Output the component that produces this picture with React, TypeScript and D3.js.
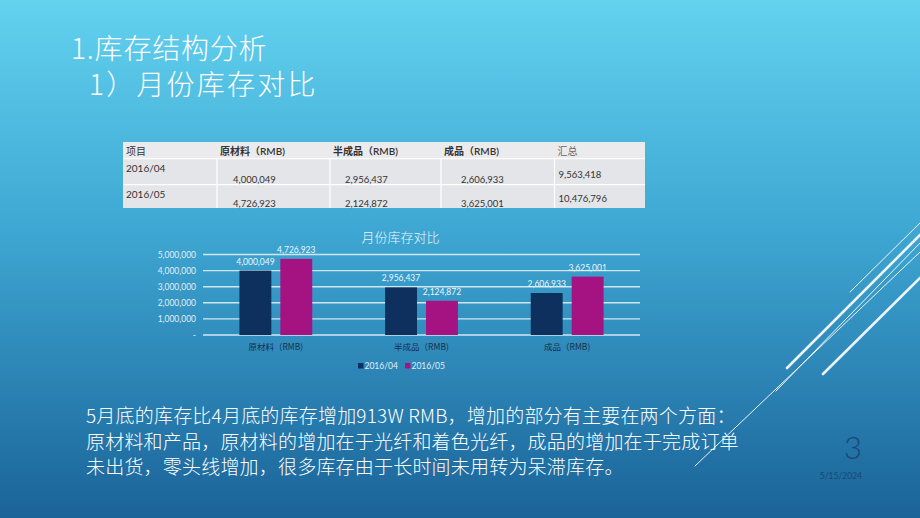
import React from "react";
import * as d3 from "d3";

const categories = ["原材料（RMB)", "半成品（RMB)", "成品（RMB)"];
const seriesNames = ["2016/04", "2016/05"];
const values04 = [4000049, 2956437, 2606933];
const values05 = [4726923, 2124872, 3625001];
const totals = [9563418, 10476796];
const tableHeaders = ["项目", "原材料（RMB)", "半成品（RMB)", "成品（RMB)", "汇总"];
const yTicks = [0, 1000000, 2000000, 3000000, 4000000, 5000000];
const titleLines = ["1.库存结构分析", "1）月份库存对比"];
const chartTitle = "月份库存对比";
const paragraph = [
  "5月底的库存比4月底的库存增加913W RMB，增加的部分有主要在两个方面：",
  "原材料和产品，原材料的增加在于光纤和着色光纤，成品的增加在于完成订单",
  "未出货，零头线增加，很多库存由于长时间未用转为呆滞库存。",
];
const pageNumber = "3";
const dateText = "5/15/2024";

const COLORS = ["#0e305e", "#a51282"];
const FONT = "'Noto Sans CJK SC', 'Noto Sans', sans-serif";
const LFONT = "Lato, 'Noto Sans CJK SC', sans-serif";

export default function App() {
  const fmt = d3.format(",");
  const series = [values04, values05];

  const x0 = d3.scaleBand<string>().domain(categories).range([203, 640]).paddingInner(0.5).paddingOuter(0.25);
  const x1 = d3.scaleBand<string>().domain(seriesNames).range([0, x0.bandwidth()]).paddingInner(0.22);
  const y = d3.scaleLinear().domain([0, 5000000]).range([335, 254.5]);

  // table layout
  const colEdges = [123, 217, 330, 441, 554.5, 645];
  const rowEdges = [142, 158.7, 184.7, 208];
  const numOffsets = [0, 16, 15, 20, 4];
  const rowsData = seriesNames.map((s, r) => [
    s,
    ...categories.map((_, c) => fmt(series[r][c])),
    fmt(totals[r]),
  ]);

  const decoLines = [
    { x1: 695, y1: 466, x2: 920, y2: 252, w: 1 },
    { x1: 776, y1: 391, x2: 920, y2: 243, w: 1 },
    { x1: 787, y1: 368, x2: 920, y2: 235, w: 2.6 },
    { x1: 850, y1: 292, x2: 920, y2: 223, w: 1 },
    { x1: 823, y1: 374, x2: 920, y2: 278, w: 2.6 },
  ];

  return (
    <svg width={920} height={518} style={{ position: "absolute", left: 0, top: 0 }}>
      <defs>
        <linearGradient id="bg" x1="0" y1="0" x2="0" y2="1">
          <stop offset="0" stopColor="#62d2ef" />
          <stop offset="0.45" stopColor="#3ea6d2" />
          <stop offset="1" stopColor="#1a6399" />
        </linearGradient>
      </defs>
      <rect x={0} y={0} width={920} height={518} fill="url(#bg)" />

      {decoLines.map((l, i) => (
        <line key={i} x1={l.x1} y1={l.y1} x2={l.x2} y2={l.y2} stroke="#ffffff" strokeOpacity={0.9} strokeWidth={l.w} strokeLinecap="round" />
      ))}

      {/* Title */}
      <text x={71} y={59} fill="#ffffff" fontFamily={FONT} fontWeight={300} fontSize={28} letterSpacing={0.8}>{titleLines[0]}</text>
      <text x={89} y={95} fill="#ffffff" fontFamily={FONT} fontWeight={300} fontSize={28} letterSpacing={2.2}>{titleLines[1]}</text>

      {/* Table */}
      <rect x={colEdges[0]} y={rowEdges[0]} width={colEdges[5] - colEdges[0]} height={rowEdges[3] - rowEdges[0]} fill="#e4e5e8" />
      <rect x={colEdges[0]} y={rowEdges[0]} width={colEdges[5] - colEdges[0]} height={rowEdges[1] - rowEdges[0]} fill="#ebebed" />
      {rowEdges.slice(1, 3).map((ry, i) => (
        <line key={"h" + i} x1={colEdges[0]} x2={colEdges[5]} y1={ry} y2={ry} stroke="#ffffff" strokeWidth={1.2} />
      ))}
      {colEdges.slice(1, 5).map((cx, i) => (
        <line key={"v" + i} x1={cx} x2={cx} y1={rowEdges[1]} y2={rowEdges[3]} stroke="#ffffff" strokeWidth={1.2} />
      ))}
      {tableHeaders.map((h, i) => (
        <text key={"th" + i} x={colEdges[i] + 3} y={155} fontFamily={LFONT} fontSize={10}
          fontWeight={i >= 1 && i <= 3 ? 600 : 400} fill={i === 4 ? "#666" : "#333"}>{h}</text>
      ))}
      {rowsData.map((row, r) =>
        row.map((cell, c) => {
          const baseY = r === 0 ? [172, 182.5, 182.5, 182.5, 177.5][c] : [197.5, 207, 207, 207, 202][c];
          return (
            <text key={`td${r}-${c}`} x={colEdges[c] + (c === 0 ? 3 : numOffsets[c])} y={baseY}
              fontFamily={LFONT} fontSize={c === 0 ? 10 : 9.5} fill="#333">{cell}</text>
          );
        })
      )}

      {/* Chart */}
      <text x={400.5} y={242} textAnchor="middle" fill="#eaf6fb" fontFamily={FONT} fontWeight={300} fontSize={13}>{chartTitle}</text>
      {yTicks.map((t) => (
        <g key={t}>
          <line x1={203} x2={640} y1={y(t)} y2={y(t)} stroke="#cfe7f2" strokeWidth={1.4} />
          <text x={196} y={y(t) + 3} textAnchor="end" fill="#e2eef5" fontFamily={LFONT} fontSize={8.5}>
            {t === 0 ? "-  " : fmt(t)}
          </text>
        </g>
      ))}
      {categories.map((c, ci) => (
        <g key={c} transform={`translate(${x0(c)},0)`}>
          {seriesNames.map((s, si) => {
            const v = series[si][ci];
            const bx = x1(s) as number;
            return (
              <g key={s}>
                <rect x={bx} y={y(v)} width={x1.bandwidth()} height={y(0) - y(v)} fill={COLORS[si]} />
                <text x={bx + x1.bandwidth() / 2} y={y(v) - 6} textAnchor="middle" fill="#eef6fa"
                  fontFamily={LFONT} fontSize={8.5}>{fmt(v)}</text>
              </g>
            );
          })}
          <text x={x0.bandwidth() / 2} y={350} textAnchor="middle" fill="#1a2e4a" fontFamily={FONT} fontSize={8.5}>{c}</text>
        </g>
      ))}
      {/* Legend */}
      {seriesNames.map((s, i) => (
        <g key={s} transform={`translate(${358 + i * 47},363)`}>
          <rect x={0} y={0} width={5.5} height={5.5} fill={COLORS[i]} />
          <text x={6.5} y={6} fill="#e2eef5" fontFamily={LFONT} fontSize={8.5}>{s}</text>
        </g>
      ))}

      {/* Paragraph */}
      {paragraph.map((p, i) => (
        <text key={i} x={86} y={423 + i * 25.5} fill="#ffffff" fontFamily={FONT} fontWeight={300} fontSize={19} letterSpacing={0.2}>{p}</text>
      ))}

      <text x={862} y={459} textAnchor="end" fill="#1e4670" fontFamily={LFONT} fontWeight={300} fontSize={31}>{pageNumber}</text>
      <text x={862} y={479} textAnchor="end" fill="#1e4670" fontFamily={LFONT} fontSize={8.5}>{dateText}</text>
    </svg>
  );
}
